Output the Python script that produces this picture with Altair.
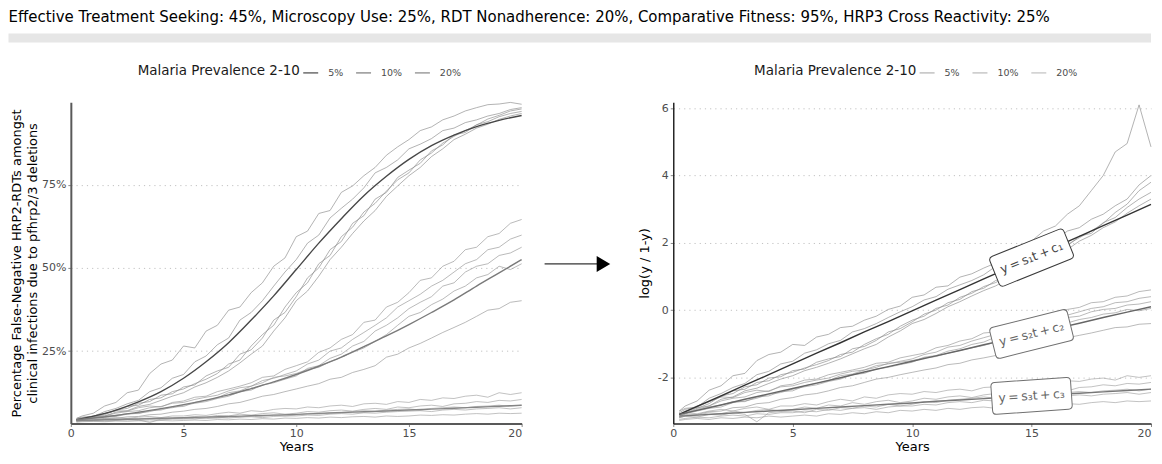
import altair as alt
import pandas as pd

TITLE = ("Effective Treatment Seeking: 45%, Microscopy Use: 25%, RDT Nonadherence: 20%, "
         "Comparative Fitness: 95%, HRP3 Cross Reactivity: 25%")
groups = ["5%", "10%", "20%"]

# time points of the simulated runs (years)
years = [0.25, 0.5, 1, 1.5, 2, 2.5, 3, 3.5, 4, 4.5, 5, 5.5, 6, 6.5, 7, 7.5, 8, 8.5, 9, 9.5, 10,
         10.5, 11, 11.5, 12, 12.5, 13, 13.5, 14, 14.5, 15, 15.5, 16, 16.5, 17, 17.5, 18, 18.5,
         19, 19.5, 20]

# log-odds  log(y/(1-y)) of the false-negative share
run_5a = [-3.00, -2.85, -2.70, -2.38, -2.25, -1.95, -1.88, -1.50, -1.32, -1.25, -1.02, -1.05,
          -0.80, -0.72, -0.52, -0.48, -0.30, -0.18, 0.02, 0.12, 0.38, 0.45, 0.68, 0.72, 0.98,
          1.08, 1.25, 1.40, 1.65, 1.85, 2.05, 2.35, 2.50, 2.85, 3.10, 3.55, 4.00, 4.70, 4.95,
          6.10, 4.85]
run_5b = [-3.05, -2.95, -2.88, -2.62, -2.48, -2.30, -2.18, -1.92, -1.82, -1.60, -1.52, -1.28,
          -1.18, -1.00, -0.90, -0.65, -0.55, -0.40, -0.22, -0.05, 0.10, 0.30, 0.40, 0.62, 0.75,
          0.88, 1.05, 1.30, 1.40, 1.55, 1.80, 1.92, 2.08, 2.35, 2.45, 2.70, 2.85, 3.10, 3.30,
          3.72, 4.00]
run_5c = [-3.10, -3.02, -2.85, -2.72, -2.58, -2.40, -2.35, -2.15, -2.10, -1.92, -1.85, -1.72,
          -1.62, -1.50, -1.32, -1.25, -1.02, -0.85, -0.72, -0.48, -0.30, -0.18, 0.05, 0.15, 0.38,
          0.50, 0.70, 0.82, 1.00, 1.18, 1.30, 1.55, 1.70, 1.95, 2.15, 2.35, 2.58, 2.90, 3.15,
          3.55, 3.80]
run_5d = [-3.15, -3.05, -2.92, -2.78, -2.55, -2.48, -2.28, -2.22, -2.02, -1.98, -1.80, -1.75,
          -1.55, -1.45, -1.38, -1.15, -1.08, -0.90, -0.65, -0.55, -0.35, -0.12, 0.00, 0.22, 0.32,
          0.55, 0.65, 0.88, 0.98, 1.22, 1.35, 1.48, 1.75, 1.90, 2.20, 2.28, 2.60, 2.75, 3.05,
          3.30, 3.50]
run_5e = [-3.20, -3.08, -2.95, -2.85, -2.65, -2.58, -2.40, -2.32, -2.18, -2.05, -1.95, -1.80,
          -1.70, -1.58, -1.45, -1.30, -1.15, -1.02, -0.80, -0.62, -0.40, -0.28, -0.10, 0.10, 0.25,
          0.42, 0.58, 0.72, 0.92, 1.08, 1.25, 1.40, 1.62, 1.80, 2.05, 2.22, 2.45, 2.62, 2.88,
          3.10, 3.30]

run_10a = [-3.00, -2.92, -2.88, -2.72, -2.58, -2.60, -2.45, -2.38, -2.42, -2.25, -2.20, -2.08,
           -2.05, -1.92, -1.85, -1.78, -1.70, -1.58, -1.55, -1.42, -1.35, -1.28, -1.12, -1.05,
           -0.92, -0.85, -0.68, -0.65, -0.48, -0.42, -0.30, -0.15, -0.12, 0.02, 0.08, 0.22, 0.25,
           0.38, 0.42, 0.55, 0.60]
run_10b = [-3.10, -3.00, -2.90, -2.85, -2.70, -2.62, -2.58, -2.45, -2.40, -2.28, -2.25, -2.15,
           -2.08, -2.02, -1.90, -1.82, -1.78, -1.65, -1.60, -1.52, -1.45, -1.32, -1.25, -1.10,
           -1.05, -0.92, -0.82, -0.72, -0.62, -0.48, -0.40, -0.32, -0.22, -0.15, -0.05, 0.05,
           0.10, 0.22, 0.25, 0.35, 0.40]
run_10c = [-3.15, -3.08, -3.00, -2.92, -2.88, -2.75, -2.70, -2.62, -2.50, -2.45, -2.35, -2.28,
           -2.22, -2.12, -2.05, -1.92, -1.88, -1.75, -1.70, -1.62, -1.55, -1.40, -1.35, -1.22,
           -1.15, -1.02, -0.95, -0.80, -0.72, -0.62, -0.50, -0.42, -0.35, -0.22, -0.18, -0.05,
           0.02, 0.05, 0.15, 0.18, 0.25]
run_10d = [-3.10, -3.05, -2.98, -2.88, -2.82, -2.72, -2.72, -2.58, -2.55, -2.42, -2.40, -2.25,
           -2.18, -2.10, -1.95, -1.90, -1.78, -1.70, -1.58, -1.55, -1.50, -1.42, -1.38, -1.28,
           -1.20, -1.12, -1.05, -0.95, -0.85, -0.72, -0.60, -0.55, -0.45, -0.38, -0.28, -0.22,
           -0.12, -0.08, 0.02, -0.02, 0.05]
run_10e = [-3.20, -3.15, -3.10, -3.02, -3.00, -2.90, -2.88, -2.78, -2.75, -2.65, -2.60, -2.52,
           -2.48, -2.40, -2.30, -2.25, -2.15, -2.05, -2.00, -1.92, -1.85, -1.78, -1.72, -1.62,
           -1.58, -1.48, -1.42, -1.35, -1.20, -1.15, -1.05, -0.98, -0.90, -0.82, -0.75, -0.68,
           -0.60, -0.52, -0.50, -0.42, -0.40]

run_20a = [-3.10, -3.05, -3.08, -3.00, -2.95, -3.00, -2.92, -2.88, -2.95, -2.85, -2.85, -2.78,
           -2.82, -2.72, -2.65, -2.70, -2.58, -2.62, -2.52, -2.48, -2.50, -2.42, -2.45, -2.38,
           -2.35, -2.40, -2.30, -2.28, -2.32, -2.22, -2.25, -2.15, -2.18, -2.10, -2.12, -2.05,
           -2.02, -2.08, -1.95, -2.00, -1.95]
run_20b = [-3.15, -3.10, -3.12, -3.05, -3.08, -3.00, -3.05, -2.98, -2.95, -3.00, -2.95, -2.88,
           -2.92, -2.82, -2.85, -2.75, -2.80, -2.72, -2.68, -2.75, -2.70, -2.62, -2.65, -2.58,
           -2.55, -2.60, -2.52, -2.48, -2.52, -2.42, -2.45, -2.38, -2.35, -2.40, -2.30, -2.28,
           -2.22, -2.25, -2.18, -2.20, -2.15]
run_20c = [-3.20, -3.15, -3.18, -3.10, -3.12, -3.05, -3.10, -3.32, -3.05, -3.02, -3.00, -3.05,
           -2.95, -2.98, -2.90, -2.92, -2.85, -2.88, -2.80, -2.85, -2.80, -2.72, -2.75, -2.68,
           -2.65, -2.62, -2.58, -2.62, -2.55, -2.52, -2.50, -2.55, -2.48, -2.45, -2.42, -2.45,
           -2.40, -2.38, -2.35, -2.40, -2.35]
run_20d = [-3.25, -3.22, -3.18, -3.20, -3.15, -3.12, -3.15, -3.08, -3.10, -3.05, -3.05, -3.00,
           -3.02, -2.95, -2.98, -2.92, -2.90, -2.95, -2.88, -2.85, -2.85, -2.80, -2.82, -2.75,
           -2.72, -2.75, -2.68, -2.70, -2.65, -2.62, -2.60, -2.58, -2.62, -2.55, -2.52, -2.55,
           -2.50, -2.48, -2.45, -2.50, -2.45]
run_20e = [-3.28, -3.25, -3.22, -3.25, -3.20, -3.22, -3.18, -3.20, -3.15, -3.18, -3.15, -3.12,
           -3.15, -3.08, -3.10, -3.05, -3.08, -3.02, -3.05, -2.98, -3.00, -2.95, -2.98, -2.92,
           -2.95, -2.90, -2.88, -2.92, -2.85, -2.88, -2.85, -2.80, -2.82, -2.78, -2.80, -2.75,
           -2.72, -2.75, -2.70, -2.72, -2.70]

# fitted (linear in log-odds) trends
fit_years = [0.25, 1, 2, 3, 4, 5, 6, 7, 8, 9, 10, 11, 12, 13, 14, 15, 16, 17, 18, 19, 20]
fit_5 = [-3.10, -2.86, -2.55, -2.23, -1.92, -1.60, -1.28, -0.97, -0.65, -0.34, -0.02, 0.30, 0.61,
         0.93, 1.24, 1.56, 1.88, 2.19, 2.51, 2.82, 3.14]
fit_10 = [-3.10, -2.98, -2.82, -2.65, -2.49, -2.33, -2.17, -2.01, -1.84, -1.68, -1.52, -1.36,
          -1.20, -1.03, -0.87, -0.71, -0.55, -0.39, -0.22, -0.06, 0.10]
fit_20 = [-3.15, -3.12, -3.08, -3.04, -3.00, -2.96, -2.92, -2.88, -2.84, -2.80, -2.76, -2.71,
          -2.67, -2.63, -2.59, -2.55, -2.51, -2.47, -2.43, -2.39, -2.35]

eq_labels = ["y\u2009=\u2009s\u2081t\u2009+\u2009c\u2081",
             "y\u2009=\u2009s\u2082t\u2009+\u2009c\u2082",
             "y\u2009=\u2009s\u2083t\u2009+\u2009c\u2083"]
label_year = 15

# ---------------- tables ----------------
rows = []
for g, runs in zip(groups, [[run_5a, run_5b, run_5c, run_5d, run_5e],
                            [run_10a, run_10b, run_10c, run_10d, run_10e],
                            [run_20a, run_20b, run_20c, run_20d, run_20e]]):
    for i, run in enumerate(runs):
        for t, z in zip(years, run):
            rows.append({"t": t, "z": z, "group": g, "run": f"{g}-{i}"})
runs_df = pd.DataFrame(rows)

frows = []
for g, fit in zip(groups, [fit_5, fit_10, fit_20]):
    for t, z in zip(fit_years, fit):
        frows.append({"t": t, "z": z, "prev": g})
fit_df = pd.DataFrame(frows)

li = fit_years.index(label_year)
label_df = pd.DataFrame({"t": [label_year] * 3,
                         "z": [fit_5[li], fit_10[li], fit_20[li]],
                         "label": eq_labels})

FONT = "DejaVu Sans"
W_L, W_R, H = 452, 479, 322

x_scale = alt.Scale(domain=[0, 20], nice=False, zero=False)


def x_axis(domain_color, domain_width):
    return alt.Axis(values=[0, 5, 10, 15, 20], title="Years", titleFontSize=13,
                    titleFontWeight="normal", titleColor="black", titlePadding=2,
                    labelFontSize=11, labelColor="#4d4d4d", labelPadding=1,
                    labelAlign=alt.ConditionalAxisLabelAlign(
                        condition={"test": "datum.value == 20", "value": "right"},
                        value="center"),
                    domainColor=domain_color, domainWidth=domain_width,
                    ticks=True, tickSize=3, tickColor="#888888", grid=False)


def legend(lx):
    return alt.Legend(title="Malaria Prevalence 2-10", orient="none", legendX=lx, legendY=-38,
                      direction="horizontal", titleOrient="left", titleFontSize=13.5,
                      titleFontWeight="normal", titleColor="#1a1a1a", titlePadding=2,
                      labelFontSize=9.5, labelColor="#4d4d4d", labelOffset=9,
                      symbolType="stroke", symbolSize=225, symbolStrokeWidth=1.2,
                      columnPadding=9, padding=0)


noisy_range = ["#8a8a8a", "#959595", "#a0a0a0"]

# ---------------- left panel ----------------
y_left = alt.Y("p:Q", scale=alt.Scale(domain=[0.032, 0.998], nice=False, zero=False),
               axis=alt.Axis(values=[0.25, 0.5, 0.75], format=".0%",
                             title=["Percentage False-Negative HRP2-RDTs amongst",
                                    "clinical infections due to pfhrp2/3 deletions"],
                             titleFontSize=13, titleFontWeight="normal", titleColor="black",
                             titleLineHeight=16, titlePadding=2,
                             labelFontSize=11, labelColor="#4d4d4d", labelPadding=2,
                             domainColor="#595959", domainWidth=2,
                             ticks=True, tickSize=3, tickColor="#888888",
                             grid=True, gridColor="#c2c2c2", gridDash=[1.2, 4], gridWidth=1))

# reversed domain order keeps this (legend-less) scale from merging with the legend scale
left_runs = alt.Chart(runs_df).transform_calculate(
    p="1/(1+exp(-datum.z))"
).mark_line(strokeWidth=1, opacity=0.65).encode(
    x=alt.X("t:Q", scale=x_scale, axis=x_axis("#595959", 2)),
    y=y_left,
    stroke=alt.Stroke("group:N", scale=alt.Scale(domain=groups[::-1], range=noisy_range[::-1]),
                      legend=None),
    detail="run:N",
)
left_fit = alt.Chart(fit_df).transform_calculate(
    p="1/(1+exp(-datum.z))"
).mark_line(strokeWidth=1.4, interpolate="monotone").encode(
    x=alt.X("t:Q", scale=x_scale),
    y=alt.Y("p:Q"),
    color=alt.Color("prev:N", scale=alt.Scale(domain=groups,
                                              range=["#474747", "#7a7a7a", "#858585"]),
                    legend=legend(67)),
)

one = alt.InlineData(values=[{"k": 1}])
strip = alt.Chart(one).mark_rect(color="#e6e6e6").encode(
    x=alt.value(-62.5), x2=alt.value(1083), y=alt.value(-69), y2=alt.value(-60))
arrow_line = alt.Chart(one).mark_rule(color="black", strokeWidth=1).encode(
    x=alt.value(475), x2=alt.value(528), y=alt.value(162))
arrow_head = alt.Chart(one).mark_point(
    shape="M-0.85,-1 L0.85,0 L-0.85,1 Z", filled=True, color="black", opacity=1, size=256
).encode(x=alt.value(534), y=alt.value(162))

left = alt.layer(strip, arrow_line, arrow_head, left_runs, left_fit).properties(
    width=W_L, height=H)

# ---------------- right panel ----------------
y_right = alt.Y("z:Q", scale=alt.Scale(domain=[-3.37, 6.175], nice=False, zero=False),
                axis=alt.Axis(values=[-2, 0, 2, 4, 6],
                              labelExpr="datum.value < 0 ? '-' + abs(datum.value) : '' + datum.value",
                              title="log(y / 1-y)", titleFontSize=13, titleFontWeight="normal",
                              titleColor="black", titlePadding=6,
                              labelFontSize=11, labelColor="#4d4d4d", labelPadding=2,
                              domainColor="#262626", domainWidth=1.5,
                              ticks=True, tickSize=3, tickColor="#888888",
                              grid=True, gridColor="#c2c2c2", gridDash=[1.2, 4], gridWidth=1))

right_runs = alt.Chart(runs_df).mark_line(strokeWidth=1, opacity=0.65).encode(
    x=alt.X("t:Q", scale=x_scale, axis=x_axis("#262626", 1.5)),
    y=y_right,
    color=alt.Color("group:N", scale=alt.Scale(domain=groups, range=noisy_range),
                    legend=legend(81)),
    detail="run:N",
)
right_fit = alt.Chart(fit_df).mark_line(strokeWidth=1.4).encode(
    x=alt.X("t:Q", scale=x_scale),
    y=alt.Y("z:Q"),
    stroke=alt.Stroke("prev:N", scale=alt.Scale(domain=groups[::-1],
                                                range=["#777777", "#666666", "#333333"]),
                      legend=None),
)

box_path = ("M-0.9,-0.4 L0.9,-0.4 Q1,-0.4 1,-0.3 L1,0.3 Q1,0.4 0.9,0.4 L-0.9,0.4 "
            "Q-1,0.4 -1,0.3 L-1,-0.3 Q-1,-0.4 -0.9,-0.4 Z")
box_styles = [(338, "#3a3a3a", "#444444"), (346, "#707070", "#666666"), (356, "#707070", "#666666")]
label_layers = []
for lab, (ang, edge, txt) in zip(eq_labels, box_styles):
    base = alt.Chart(label_df).transform_filter(alt.datum.label == lab)
    label_layers.append(base.mark_point(shape=box_path, filled=True, fill="white", stroke=edge,
                                        strokeWidth=1, opacity=1, size=6400, angle=ang).encode(
        x=alt.X("t:Q", scale=x_scale), y=alt.Y("z:Q")))
    label_layers.append(base.mark_text(font=FONT, fontSize=12.5, color=txt, angle=ang,
                                       align="center", baseline="middle").encode(
        x=alt.X("t:Q", scale=x_scale), y=alt.Y("z:Q"), text="label:N"))

right = alt.layer(right_runs, right_fit, *label_layers).properties(width=W_R, height=H)

chart = alt.hconcat(left, right, spacing=152, bounds="flush").resolve_scale(
    color="independent", stroke="independent"
).properties(
    title=alt.TitleParams(TITLE, anchor="start", frame="bounds", fontSize=15,
                          fontWeight="normal", color="black", offset=9, font=FONT),
    padding={"left": 0, "top": 1, "right": 0, "bottom": 0},
    background="white",
).configure(font=FONT).configure_view(stroke=None)

chart.save("out.html", embed_options={"renderer": "svg", "actions": False})
